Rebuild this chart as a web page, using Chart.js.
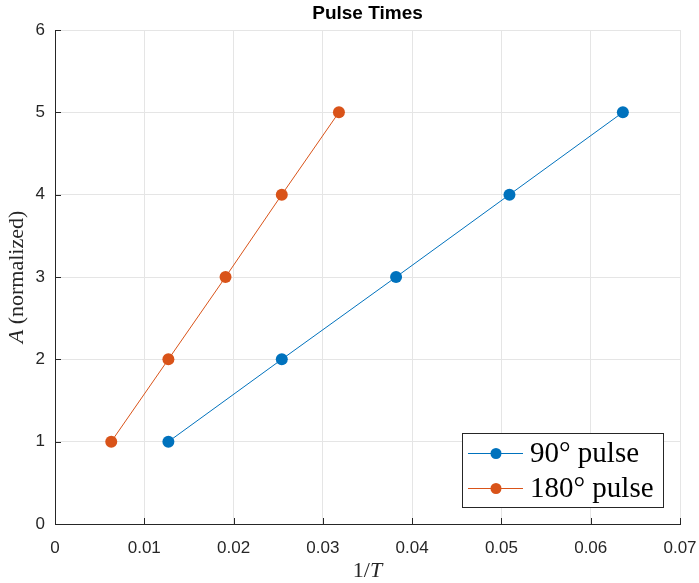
<!DOCTYPE html>
<html>
<head>
<meta charset="utf-8">
<script src="https://cdn.jsdelivr.net/npm/chart.js@4"></script>
<style>
html,body{margin:0;padding:0;background:#fff;}
#wrap{width:699px;height:583px;}
</style>
</head>
<body>
<div id="wrap"><canvas id="c" width="699" height="583"></canvas></div>
<script>
const titleText = "Pulse Times";
const seriesLabels = ["90\u00B0 pulse", "180\u00B0 pulse"];
const x90 = [0.0127, 0.0254, 0.0382, 0.0509, 0.0636];
const y90 = [1, 2, 3, 4, 5];
const x180 = [0.0063, 0.0127, 0.0191, 0.0254, 0.0318];
const y180 = [1, 2, 3, 4, 5];
const xTicks = [0, 0.01, 0.02, 0.03, 0.04, 0.05, 0.06, 0.07];
const yTicks = [0, 1, 2, 3, 4, 5, 6];
const colors = ["#0072BD", "#D95319"];

const axisColor = "#262626";
const gridColor = "#e5e5e5";

function pts(xs, ys){ return xs.map((x,i)=>({x:x, y:ys[i]})); }

const decor = {
  id: 'decor',
  afterDraw(chart){
    const ctx = chart.ctx;
    const ca = chart.chartArea;
    const xs = chart.scales.x, ys = chart.scales.y;
    ctx.save();
    // inward ticks
    ctx.strokeStyle = axisColor; ctx.lineWidth = 1;
    xTicks.forEach(v=>{
      const px = Math.round(xs.getPixelForValue(v))+0.5;
      ctx.beginPath(); ctx.moveTo(px, ca.bottom); ctx.lineTo(px, ca.bottom-6); ctx.stroke();
    });
    yTicks.forEach(v=>{
      const py = Math.round(ys.getPixelForValue(v))+0.5;
      ctx.beginPath(); ctx.moveTo(ca.left, py); ctx.lineTo(ca.left+6, py); ctx.stroke();
    });
    // title
    ctx.fillStyle = "#000";
    ctx.font = "bold 19px 'Liberation Sans', Arial, sans-serif";
    ctx.textAlign = "center"; ctx.textBaseline = "middle";
    ctx.fillText(titleText, (ca.left+ca.right)/2, 14);
    // x label 1/T
    const fsz = 22;
    ctx.fillStyle = axisColor;
    ctx.textBaseline = "alphabetic"; ctx.textAlign = "left";
    ctx.font = fsz+"px 'Liberation Serif', serif";
    const a1 = "1/"; const w1 = ctx.measureText(a1).width;
    ctx.font = "italic "+fsz+"px 'Liberation Serif', serif";
    const w2 = ctx.measureText("T").width;
    let sx = (ca.left+ca.right)/2 - (w1+w2)/2;
    ctx.font = fsz+"px 'Liberation Serif', serif";
    ctx.fillText(a1, sx, 577);
    ctx.font = "italic "+fsz+"px 'Liberation Serif', serif";
    ctx.fillText("T", sx+w1, 577);
    // y label
    ctx.save();
    ctx.translate(23, (ca.top+ca.bottom)/2);
    ctx.rotate(-Math.PI/2);
    ctx.font = "italic "+fsz+"px 'Liberation Serif', serif";
    const wa = ctx.measureText("A").width;
    ctx.font = fsz+"px 'Liberation Serif', serif";
    const rest = " (normalized)";
    const wb = ctx.measureText(rest).width;
    let s2 = -(wa+wb)/2;
    ctx.font = "italic "+fsz+"px 'Liberation Serif', serif";
    ctx.fillText("A", s2, 0);
    ctx.font = fsz+"px 'Liberation Serif', serif";
    ctx.fillText(rest, s2+wa, 0);
    ctx.restore();
    // legend
    const lx = 462.5, ly = 433.5, lw = 201, lh = 74;
    ctx.fillStyle = "#fff";
    ctx.fillRect(lx, ly, lw, lh);
    ctx.strokeStyle = axisColor; ctx.lineWidth = 1;
    ctx.strokeRect(lx, ly, lw, lh);
    const rows = [453, 488];
    chart.data.datasets.forEach((ds,i)=>{
      const yy = rows[i];
      ctx.strokeStyle = ds.borderColor; ctx.lineWidth = 1;
      ctx.beginPath(); ctx.moveTo(468, yy+0.5); ctx.lineTo(523, yy+0.5); ctx.stroke();
      ctx.fillStyle = ds.pointBackgroundColor;
      ctx.beginPath(); ctx.arc(496, yy+0.5, 5.5, 0, Math.PI*2); ctx.fill();
      ctx.fillStyle = "#000";
      ctx.font = "29px 'Liberation Serif', serif";
      ctx.textAlign = "left"; ctx.textBaseline = "middle";
      ctx.fillText(ds.label, 530, yy+1);
    });
    ctx.restore();
  }
};

new Chart(document.getElementById('c'), {
  type: 'scatter',
  data: {
    datasets: [
      { label: seriesLabels[0], data: pts(x90, y90), showLine: true,
        borderColor: colors[0], backgroundColor: colors[0], pointBackgroundColor: colors[0],
        pointBorderWidth: 0, borderWidth: 1, pointRadius: 6 },
      { label: seriesLabels[1], data: pts(x180, y180), showLine: true,
        borderColor: colors[1], backgroundColor: colors[1], pointBackgroundColor: colors[1],
        pointBorderWidth: 0, borderWidth: 1, pointRadius: 6 }
    ]
  },
  options: {
    responsive: false,
    animation: false,
    layout: { padding: { top: 30, right: 19, left: 0, bottom: 0 } },
    plugins: { legend: { display: false }, title: { display: false }, tooltip: { enabled: false } },
    scales: {
      x: {
        type: 'linear', min: 0, max: 0.07,
        afterFit(s){ s.height = 59; s.paddingLeft = 0; s.paddingRight = 0; },
        afterBuildTicks(s){ s.ticks = xTicks.map(v=>({value:v})); },
        ticks: { color: axisColor, font: { family: "'Liberation Sans', Arial, sans-serif", size: 17 }, padding: 14,
          callback: (v)=> String(+v.toFixed(2)), maxRotation: 0, autoSkip: false },
        grid: { color: gridColor, drawTicks: false, tickLength: 0 },
        border: { color: axisColor, width: 1 }
      },
      y: {
        type: 'linear', min: 0, max: 6,
        afterFit(s){ s.width = 55; s.paddingTop = 0; s.paddingBottom = 0; },
        afterBuildTicks(s){ s.ticks = yTicks.map(v=>({value:v})); },
        ticks: { color: axisColor, font: { family: "'Liberation Sans', Arial, sans-serif", size: 17 }, padding: 10,
          callback: (v)=> String(v) },
        grid: { color: gridColor, drawTicks: false, tickLength: 0 },
        border: { color: axisColor, width: 1 }
      }
    }
  },
  plugins: [decor]
});
</script>
</body>
</html>
